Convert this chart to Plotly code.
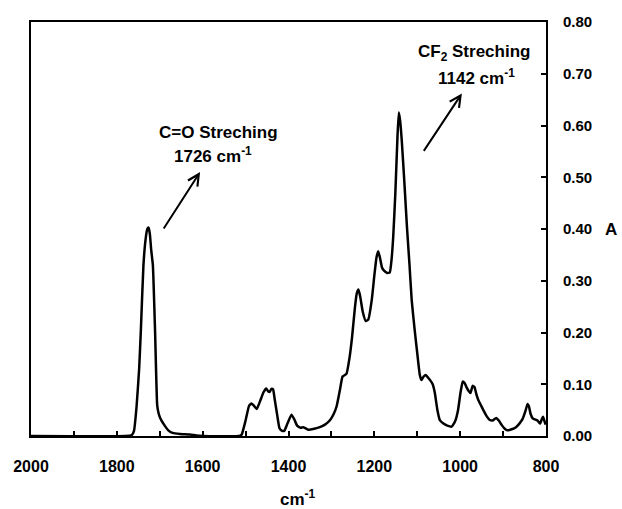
import plotly.graph_objects as go

# FTIR spectrum: wavenumber (cm-1) and absorbance
wavenumber = [
    2000, 1780, 1765, 1760, 1754, 1748, 1744, 1738, 1733, 1729, 1726, 1723, 1720,
    1716, 1711, 1706, 1703, 1699, 1690, 1680, 1670, 1653, 1630, 1615, 1600,
    1515, 1509, 1500, 1492, 1486, 1480, 1474, 1465, 1458, 1452, 1447, 1444,
    1440, 1436, 1432, 1427, 1421, 1415, 1410, 1402, 1393, 1387, 1380, 1372,
    1365, 1354, 1340, 1327, 1315, 1303, 1295, 1288, 1280, 1274, 1265, 1258,
    1252, 1245, 1241, 1237, 1233, 1227, 1220, 1214, 1206, 1200, 1195, 1191,
    1187, 1182, 1178, 1170, 1164, 1160, 1156, 1151, 1146, 1143, 1140, 1136,
    1130, 1124, 1118, 1113, 1106, 1100, 1094, 1090, 1085, 1080, 1075, 1070,
    1064, 1059, 1053, 1047, 1039, 1030, 1020, 1012, 1005, 999, 994, 990,
    985, 981, 976, 971, 967, 962, 958, 952, 946, 938, 931, 924, 916, 910,
    903, 896, 890, 880, 870, 862, 855, 848, 843, 840, 836, 831, 826, 820,
    814, 810, 807, 804, 801,
]
absorbance = [
    0.0, 0.0, 0.002, 0.01, 0.057, 0.13, 0.205, 0.33, 0.38, 0.40, 0.403, 0.39, 0.36,
    0.33, 0.205, 0.06, 0.045, 0.035, 0.022, 0.011, 0.006, 0.004, 0.003, 0.001, 0.0,
    0.0, 0.003, 0.03, 0.058, 0.063, 0.058, 0.052, 0.07, 0.085, 0.092, 0.086, 0.085,
    0.091, 0.09, 0.07, 0.044, 0.015, 0.01, 0.01, 0.025, 0.041, 0.033, 0.02, 0.016,
    0.017, 0.012, 0.014, 0.017, 0.022, 0.031, 0.042, 0.057, 0.09, 0.115, 0.12, 0.15,
    0.19, 0.25, 0.275, 0.283, 0.27, 0.24, 0.222, 0.225, 0.263, 0.31, 0.345, 0.357,
    0.345, 0.325, 0.32, 0.315, 0.316, 0.34, 0.385, 0.47, 0.58, 0.625, 0.61, 0.57,
    0.49, 0.404, 0.33, 0.263, 0.205, 0.16, 0.118, 0.108, 0.115, 0.118, 0.113, 0.108,
    0.1, 0.083, 0.05, 0.03, 0.024, 0.02, 0.018, 0.028, 0.05, 0.085, 0.105, 0.103,
    0.094, 0.088, 0.083, 0.097, 0.095, 0.08, 0.07, 0.06, 0.05, 0.038, 0.031, 0.03, 0.035, 0.03,
    0.021, 0.014, 0.011, 0.013, 0.017, 0.024, 0.032, 0.048, 0.062, 0.058, 0.043, 0.034, 0.032, 0.03,
    0.024, 0.032, 0.037, 0.03, 0.022,
]

x_ticks = [2000, 1800, 1600, 1400, 1200, 1000, 800]
y_ticks = [0.0, 0.1, 0.2, 0.3, 0.4, 0.5, 0.6, 0.7, 0.8]

# Band labels (text, position in data units)
band_labels = [
    ("C=O Streching", (1564, 0.587)),
    ("1726 cm<sup>-1</sup>", (1576, 0.543)),
    ("CF<sub>2</sub> Streching", (968, 0.740)),
    ("1142 cm<sup>-1</sup>", (961, 0.694)),
]
# Pointer arrows: (tail, head) in data units
band_arrows = [
    ((1693, 0.398), (1606, 0.510)),
    ((1087, 0.548), (996, 0.662)),
]

FONT = "Liberation Sans, Arial, sans-serif"

fig = go.Figure()
fig.add_trace(go.Scatter(
    x=wavenumber, y=absorbance, mode="lines",
    line=dict(color="black", width=2.5, shape="spline", smoothing=0.4),
    hoverinfo="skip", showlegend=False,
))

for text, (tx, ty) in band_labels:
    fig.add_annotation(
        x=tx, y=ty, xref="x", yref="y", text=text, showarrow=False,
        font=dict(family=FONT, size=17, color="black", weight="bold"),
        xanchor="center", yanchor="middle",
    )

for (tail_x, tail_y), (head_x, head_y) in band_arrows:
    fig.add_annotation(
        x=head_x, y=head_y, ax=tail_x, ay=tail_y,
        xref="x", yref="y", axref="x", ayref="y",
        text="", showarrow=True, arrowhead=5, arrowsize=1.1,
        arrowwidth=2, arrowcolor="black",
    )

# Axis titles
fig.add_annotation(
    x=0.518, y=-0.15, xref="paper", yref="paper",
    text="cm<sup>-1</sup>", showarrow=False,
    font=dict(family=FONT, size=17, color="black", weight="bold"),
    xanchor="center", yanchor="middle",
)
fig.add_annotation(
    x=1.126, y=0.5, xref="paper", yref="paper",
    text="A", showarrow=False,
    font=dict(family=FONT, size=17, color="black", weight="bold"),
    xanchor="center", yanchor="middle",
)

fig.update_xaxes(
    range=[2000, 800], tickvals=x_ticks, ticktext=[str(v) for v in x_ticks],
    ticks="inside", ticklen=5, tickwidth=2, tickcolor="black",
    minor=dict(dtick=100, ticks="inside", ticklen=5, tickwidth=2, tickcolor="black"),
    showline=True, linewidth=2, linecolor="black", mirror=True,
    showgrid=False, zeroline=False, ticklabelstandoff=15,
    tickfont=dict(family=FONT, size=16, color="black", weight="bold"),
)
fig.update_yaxes(
    range=[0, 0.8], side="right", tickvals=y_ticks,
    ticktext=[f"{v:.2f}" for v in y_ticks],
    ticks="inside", ticklen=5, tickwidth=2, tickcolor="black",
    showline=True, linewidth=2, linecolor="black", mirror=True,
    showgrid=False, zeroline=False, ticklabelstandoff=12,
    tickfont=dict(family=FONT, size=15, color="black", weight="bold"),
)

fig.update_layout(
    width=622, height=509,
    margin=dict(l=31, r=76, t=22, b=73),
    paper_bgcolor="white", plot_bgcolor="white",
    showlegend=False,
)

fig.write_html("out.html")
